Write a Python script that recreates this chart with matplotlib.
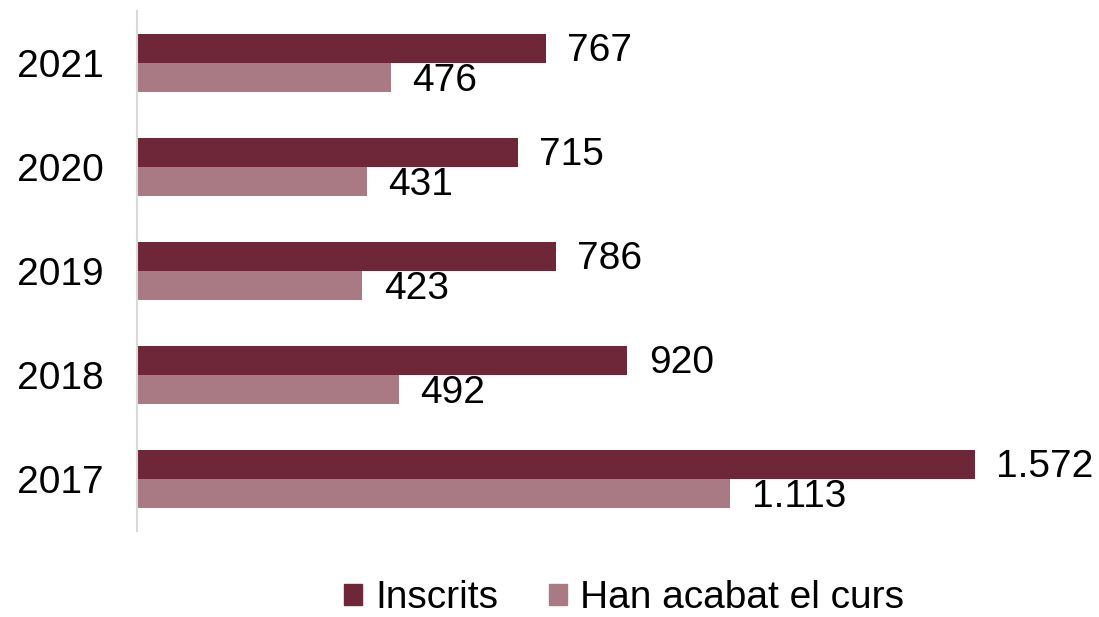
import matplotlib.pyplot as plt
import numpy as np
from matplotlib.patches import Patch

plt.rcParams['font.family'] = ['Liberation Sans', 'DejaVu Sans']

# dades
anys = ['2017', '2018', '2019', '2020', '2021']
inscrits = [1572, 920, 786, 715, 767]
acabat = [1113, 492, 423, 431, 476]
etiquetes_inscrits = ['1.572', '920', '786', '715', '767']
etiquetes_acabat = ['1.113', '492', '423', '431', '476']

color_fosc = '#6E2739'
color_clar = '#A97A84'

fig = plt.figure(figsize=(10.99, 6.17), dpi=100)
ax = fig.add_axes([0.1247, 0.139, 0.8753, 0.843])

y = np.arange(len(anys))
h = 0.28
ax.barh(y + h / 2, inscrits, height=h, color=color_fosc)
ax.barh(y - h / 2, acabat, height=h, color=color_clar)

for i in range(len(anys)):
    ax.text(inscrits[i] + 40, y[i] + h / 2 - 0.02, etiquetes_inscrits[i], va='center', ha='left', fontsize=28)
    ax.text(acabat[i] + 40, y[i] - h / 2 - 0.03, etiquetes_acabat[i], va='center', ha='left', fontsize=28)

ax.set_yticks(y)
ax.set_yticklabels(anys, fontsize=28)
ax.tick_params(axis='y', length=0, pad=24)
ax.set_xticks([])
ax.set_xlim(0, 1805)
ax.set_ylim(-0.5, 4.5)
for s in ['top', 'right', 'bottom']:
    ax.spines[s].set_visible(False)
ax.spines['left'].set_color('#D9D9D9')
ax.spines['left'].set_linewidth(1.5)

handles = [Patch(color=color_fosc, label='Inscrits'), Patch(color=color_clar, label='Han acabat el curs')]
fig.legend(handles=handles, loc='center', bbox_to_anchor=(0.568, 0.03), ncol=2, frameon=False,
           fontsize=28, handlelength=0.45, handleheight=0.45, handletextpad=0.35, columnspacing=1.3,
           borderpad=0.2)

fig.savefig('out.png', dpi=100)
